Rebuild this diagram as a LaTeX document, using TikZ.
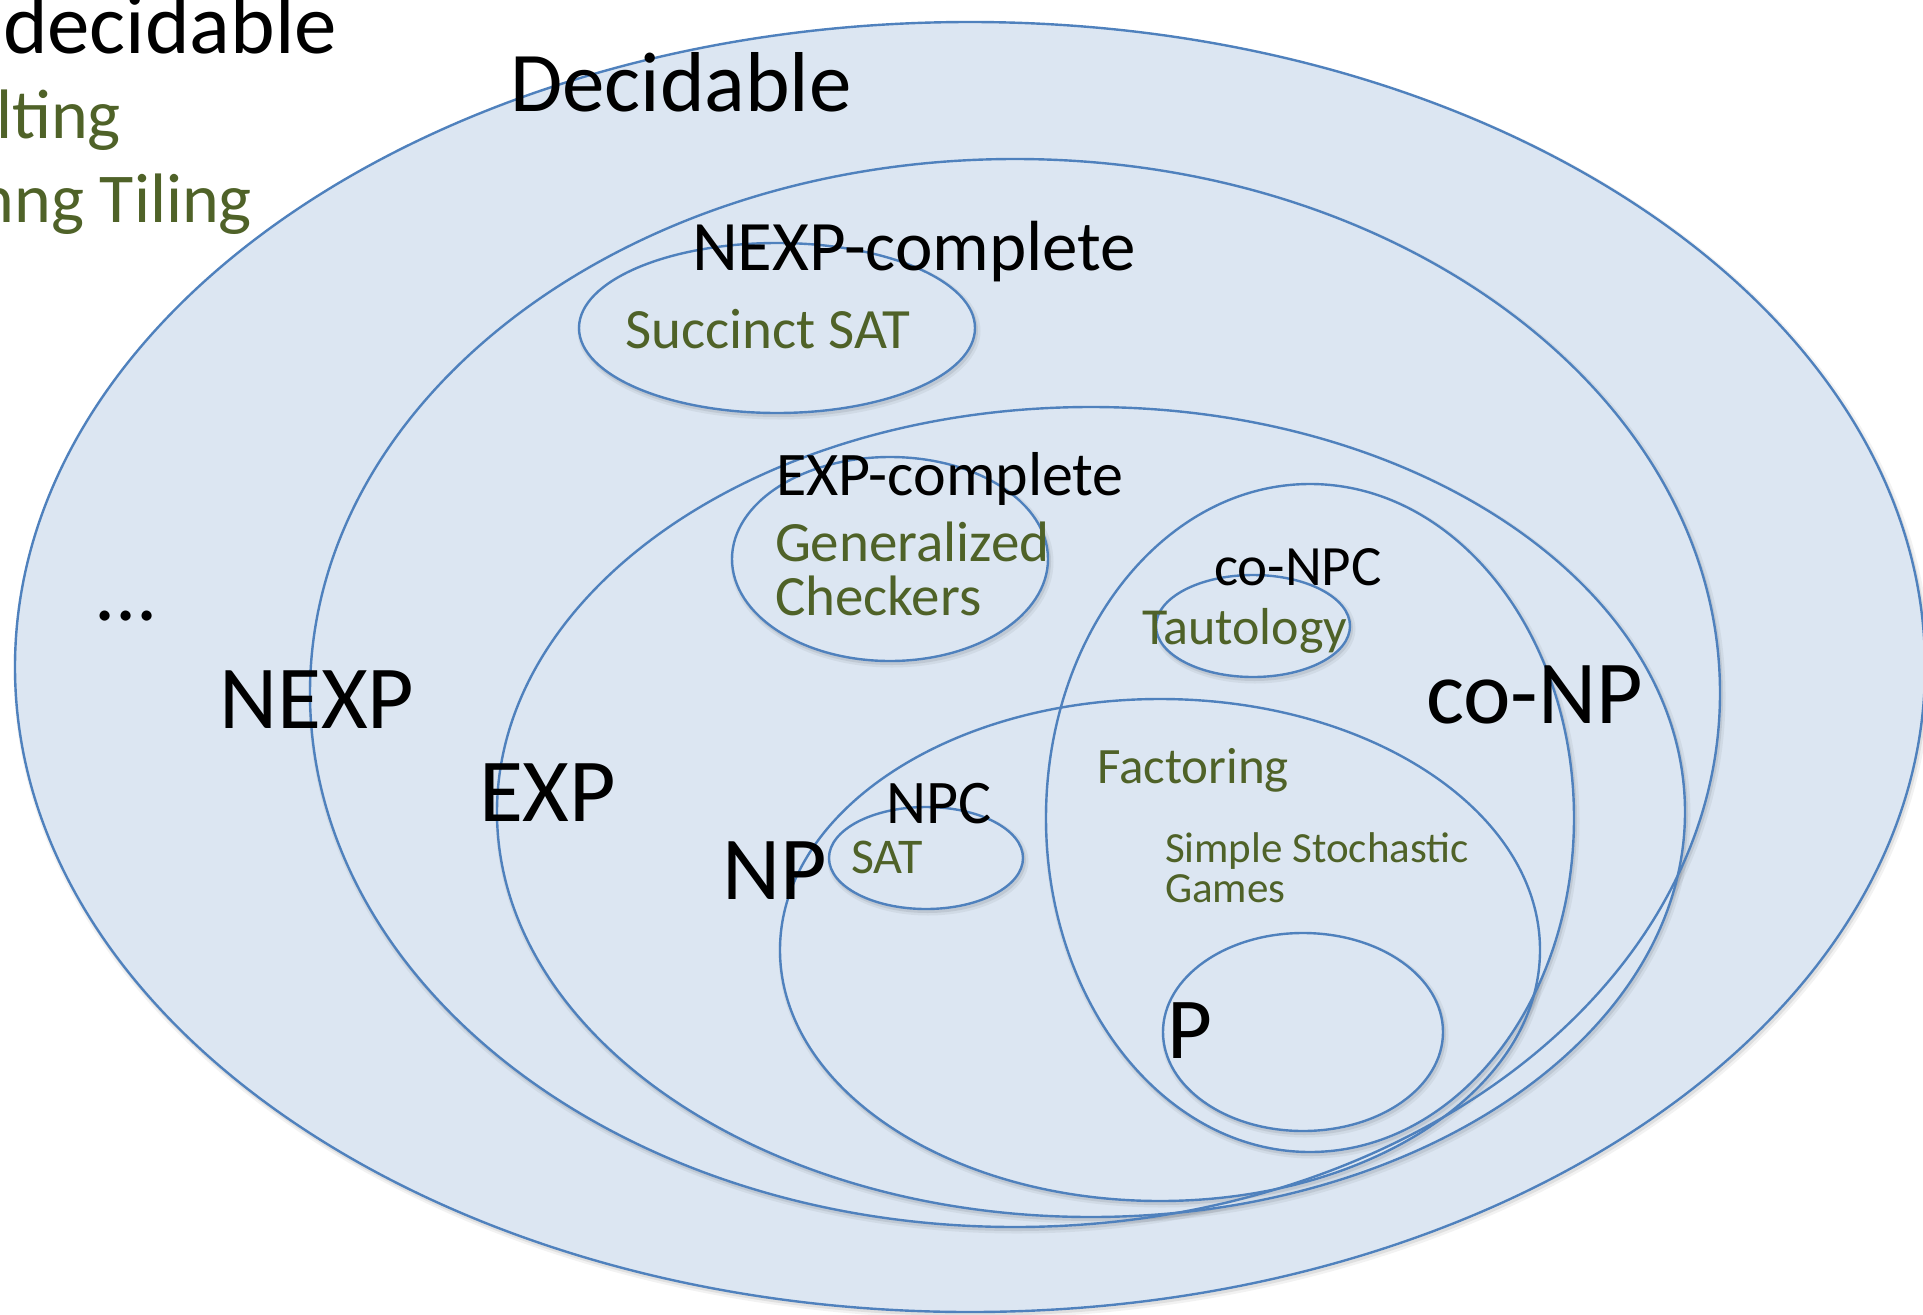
\documentclass[tikz,border=0pt]{standalone}
\usepackage{fontspec}
\setmainfont{Carlito}
\definecolor{setfill}{HTML}{DCE6F2}
\definecolor{setline}{HTML}{4F81BD}
\definecolor{example}{HTML}{4F6228}
\begin{document}
\begin{tikzpicture}[x=1pt,y=-1pt,
  rim/.style={draw=setline,line width=2.4pt},
  lbl/.style={anchor=base west,inner sep=0pt,outer sep=0pt},
  sz/.style={font=\fontsize{#1}{#1}\selectfont},
  ex/.style={text=example}]
\clip (0,0) rectangle (1923,1315);
\fill[white] (0,0) rectangle (1923,1315);

% complexity classes: centre x / centre y / x radius / y radius
\def\classes{970/667/955/645, 1015/693/705/534, 1091/812/594/405,
  777/328/198/85, 890/559/158/102, 1160/950/380/251, 1310/818/264/334,
  1253/626/97/51, 926/858/97/51, 1303/1032/140/99}

% soft shadows and fills, outermost first
\foreach \cx/\cy/\rx/\ry in \classes {
  \draw[black,opacity=0.05,line width=7pt] (\cx+2,\cy+3) ellipse [x radius=\rx, y radius=\ry];
  \draw[black,opacity=0.08,line width=3pt] (\cx+1.5,\cy+2.5) ellipse [x radius=\rx, y radius=\ry];
  \fill[setfill] (\cx,\cy) ellipse [x radius=\rx, y radius=\ry];
}
% outlines on top of all fills
\foreach \cx/\cy/\rx/\ry in \classes {
  \draw[rim] (\cx,\cy) ellipse [x radius=\rx, y radius=\ry];
}

% undecidable side
\node[lbl,sz=85] (undec) at (3,53) {decidable};
\node[lbl,sz=70,ex] (halt) at (-4,138) {lting};
\node[lbl,sz=70,ex,anchor=base east] (tiling) at (252,222) {nng Tiling};

% class names
\node[lbl,sz=85] (dec) at (510,111) {Decidable};
\node[lbl,sz=84] (dots) at (94,620) {...};
\node[lbl,sz=90] (nexp) at (219,728) {NEXP};
\node[lbl,sz=90] (exp) at (479,821) {EXP};
\node[lbl,sz=90] (np) at (722,899) {NP};
\node[lbl,sz=90] (conp) at (1426,723) {co-NP};
\node[lbl,sz=87] (p) at (1167,1058) {P};

% complete problems
\node[lbl,sz=71] (nexpc) at (692,270) {NEXP-complete};
\node[lbl,sz=57,ex] (ssat) at (625,348) {Succinct SAT};
\node[lbl,sz=62] (expc) at (776,495) {EXP-complete};
\node[lbl,sz=57,ex] (gen) at (775,561) {Generalized};
\node[lbl,sz=57,ex] (chk) at (775,615) {Checkers};
\node[lbl,sz=57] (conpc) at (1214,585) {co-NPC};
\node[lbl,sz=52,ex] (taut) at (1142,644) {Tautology};
\node[lbl,sz=62] (npc) at (886,823) {NPC};
\node[lbl,sz=50,ex] (sat) at (851,873) {SAT};

% problems in NP and co-NP
\node[lbl,sz=51,ex] (fact) at (1097,783) {Factoring};
\node[lbl,sz=43,ex] (ssg) at (1165,862) {Simple Stochastic};
\node[lbl,sz=43,ex] (games) at (1165,902) {Games};
\end{tikzpicture}
\end{document}
